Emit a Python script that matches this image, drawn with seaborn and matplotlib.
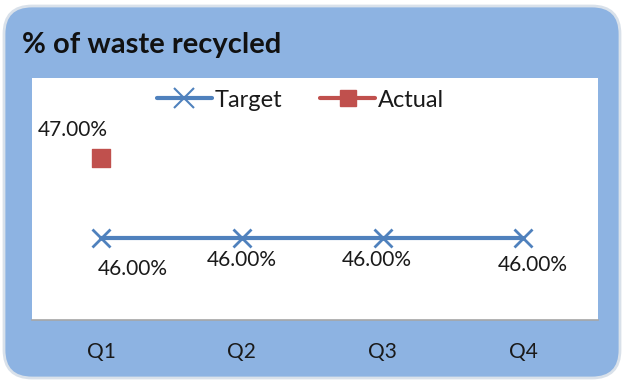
import matplotlib
matplotlib.use("Agg")
import matplotlib.pyplot as plt
import seaborn as sns
import pandas as pd
from matplotlib.patches import FancyBboxPatch
from matplotlib.lines import Line2D

quarters = ["Q1", "Q2", "Q3", "Q4"]
target = [46.0, 46.0, 46.0, 46.0]
actual_q = ["Q1"]
actual = [47.0]
title = "% of waste recycled"

sns.set_theme(style="white")
plt.rcParams['font.family'] = ['Lato', 'DejaVu Sans']

fig = plt.figure(figsize=(6.24, 3.82), dpi=100)
fig.patch.set_facecolor("white")
bg = FancyBboxPatch((4/624, 4/382), 616/624, 372/382,
                    boxstyle="round,pad=0,rounding_size=0.045",
                    transform=fig.transFigure, facecolor="#8DB3E2",
                    edgecolor="#D9E1EA", linewidth=2, mutation_aspect=624/382,
                    zorder=-10)
fig.add_artist(bg)

ax = fig.add_axes([32/624, 62/382, 566/624, 242/382])
ax.set_zorder(1)
ax.set_facecolor("white")

pos = {q: i for i, q in enumerate(quarters)}
df_t = pd.DataFrame({"x": [pos[q] for q in quarters], "y": target})
df_a = pd.DataFrame({"x": [pos[q] for q in actual_q], "y": actual})

tcol = "#4F81BD"
acol = "#C0504D"
txt = "#1A1A1A"
sns.lineplot(data=df_t, x="x", y="y", ax=ax, color=tcol, linewidth=3,
             marker="x", markersize=13, markeredgewidth=2, markeredgecolor=tcol, legend=False)
sns.scatterplot(data=df_a, x="x", y="y", ax=ax, color=acol, marker="s", s=150,
                edgecolor=acol, legend=False)

ax.set_xlim(-0.49, 3.53)
ax.set_ylim(44.98, 48.0)
ax.set_xticks(range(len(quarters)))
ax.set_xticklabels(quarters, fontsize=15, color=txt)
ax.set_yticks([])
ax.set_xlabel("")
ax.set_ylabel("")
ax.tick_params(axis="x", length=0, pad=16)
for s in ["top", "left", "right"]:
    ax.spines[s].set_visible(False)
ax.spines["bottom"].set_color("#A6A6A6")
ax.spines["bottom"].set_linewidth(1.2)

offsets = [(23, -22), (0, -16), (-4, -16), (7, -19)]
for i, v in enumerate(target):
    ax.annotate(f"{v:.2f}%", (i, v), xytext=offsets[i], textcoords="offset points",
                ha="center", va="center", fontsize=15, color=txt)
for q, v in zip(actual_q, actual):
    ax.annotate(f"{v:.2f}%", (pos[q], v), xytext=(-20, 20), textcoords="offset points",
                ha="center", va="center", fontsize=15, color=txt)

handles = [Line2D([0], [0], color=tcol, lw=3, marker="x", markersize=14, markeredgewidth=1.5),
           Line2D([0], [0], color=acol, lw=3, marker="s", markersize=12)]
ax.legend(handles, ["Target", "Actual"], loc="center", bbox_to_anchor=(0.475, 0.909),
          ncol=2, frameon=False, fontsize=17, handlelength=2.3, handletextpad=0.15,
          columnspacing=1.6, labelcolor=txt)

fig.text(22/624, 1 - 45/382, title, fontsize=21, fontweight="bold", ha="left", va="center",
         color="#111111")

fig.savefig("out.png", dpi=100)
